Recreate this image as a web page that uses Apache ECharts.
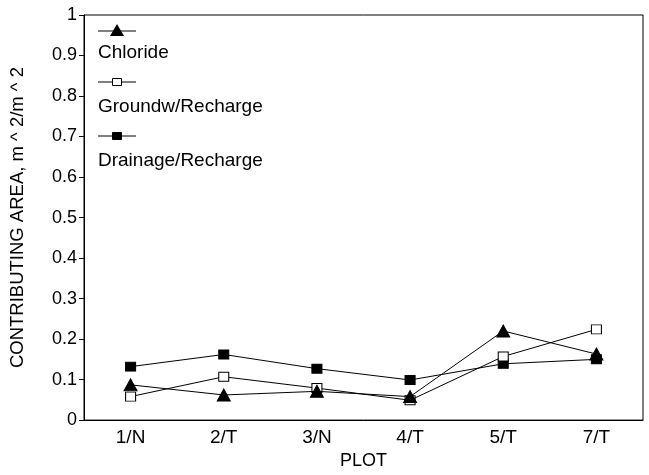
<!DOCTYPE html>
<html>
<head>
<meta charset="utf-8">
<script src="https://cdn.jsdelivr.net/npm/echarts@6/dist/echarts.min.js"></script>
<style>html,body{margin:0;padding:0;background:#fff;overflow:hidden;}#c{width:649px;height:475px;}</style>
</head>
<body>
<div id="c"></div>
<script>
const categories = ['1/N', '2/T', '3/N', '4/T', '5/T', '7/T'];
const chloride = [0.087, 0.062, 0.071, 0.058, 0.220, 0.163];
const groundw = [0.058, 0.107, 0.079, 0.049, 0.157, 0.224];
const drainage = [0.132, 0.162, 0.127, 0.099, 0.139, 0.150];
const yTicks = [0, 0.1, 0.2, 0.3, 0.4, 0.5, 0.6, 0.7, 0.8, 0.9, 1];
const seriesNames = ['Chloride', 'Groundw/Recharge', 'Drainage/Recharge'];

const FONT = 'Liberation Sans, Arial, sans-serif';
const chart = echarts.init(document.getElementById('c'), null, {renderer: 'canvas', width: 649, height: 475});

const markerStyles = [
  {symbol: 'triangle', symbolSize: [13, 12], itemStyle: {color: '#000', borderColor: '#000', borderWidth: 1}},
  {symbol: 'rect', symbolSize: [10, 9], itemStyle: {color: '#fff', borderColor: '#000', borderWidth: 1}},
  {symbol: 'rect', symbolSize: [10, 9], itemStyle: {color: '#000', borderColor: '#000', borderWidth: 1}}
];
const dataSets = [chloride, groundw, drainage];

const series = dataSets.map((d, i) => ({
  name: seriesNames[i],
  type: 'line',
  data: d,
  symbol: markerStyles[i].symbol,
  symbolSize: markerStyles[i].symbolSize,
  showAllSymbol: true,
  itemStyle: markerStyles[i].itemStyle,
  lineStyle: {color: '#000', width: 1},
  z: 5 - i,
  animation: false
}));

// Legend built with graphic elements (sample line + marker above the text)
const legendRows = [31, 82, 136];
const textRows = [53, 107, 161];
const graphics = [];
legendRows.forEach((y, i) => {
  graphics.push({type: 'line', shape: {x1: 98, y1: y, x2: 136, y2: y}, style: {stroke: '#000', lineWidth: 1}});
  if (i === 0) {
    graphics.push({type: 'polygon', shape: {points: [[117, y - 7], [110, y + 5], [124, y + 5]]}, style: {fill: '#000'}});
  } else {
    graphics.push({type: 'rect', shape: {x: 112.5, y: y - 3.5, width: 9, height: 7},
      style: {fill: i === 1 ? '#fff' : '#000', stroke: '#000', lineWidth: 1}});
  }
  graphics.push({type: 'text', x: 98, y: textRows[i],
    style: {text: seriesNames[i], font: '19px ' + FONT, fill: '#000', verticalAlign: 'middle'}});
});

chart.setOption({
  backgroundColor: '#fff',
  animation: false,
  grid: {left: 82, width: 561, top: 15, height: 409, show: true, borderColor: '#000', borderWidth: 1},
  xAxis: {
    type: 'category',
    data: categories,
    boundaryGap: true,
    name: 'PLOT',
    nameLocation: 'middle',
    nameGap: 31,
    nameTextStyle: {fontFamily: FONT, fontSize: 18, color: '#000'},
    axisLine: {lineStyle: {color: '#000', width: 1}},
    axisTick: {alignWithLabel: true, length: 5, lineStyle: {color: '#000'}},
    axisLabel: {fontFamily: FONT, fontSize: 19, color: '#000', margin: 8},
    splitLine: {show: false}
  },
  yAxis: {
    type: 'value',
    min: 0,
    max: 1,
    interval: 0.1,
    name: 'CONTRIBUTING AREA, m ^ 2/m ^ 2',
    nameLocation: 'middle',
    nameGap: 57,
    nameTextStyle: {fontFamily: FONT, fontSize: 18.5, color: '#000'},
    axisLine: {show: true, lineStyle: {color: '#000', width: 1}},
    axisTick: {show: true, length: 5, lineStyle: {color: '#000'}},
    axisLabel: {fontFamily: FONT, fontSize: 18, color: '#000', margin: 7,
      formatter: v => {
        const t = yTicks.find(x => Math.abs(x - v) < 1e-9);
        return t === undefined ? '' : String(+t.toFixed(1));
      }},
    splitLine: {show: false}
  },
  graphic: graphics,
  series: series
});
</script>
</body>
</html>
